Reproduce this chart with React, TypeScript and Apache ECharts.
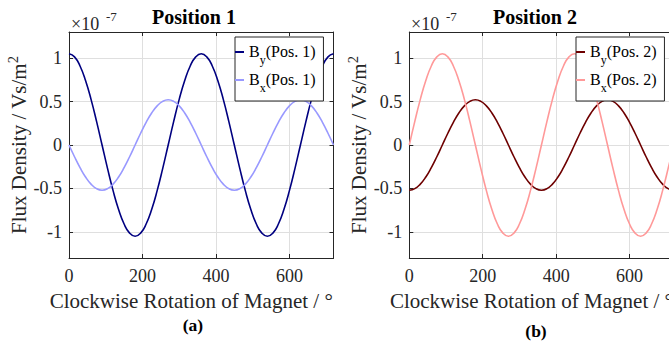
import React, { useEffect, useRef } from 'react';
import * as echarts from 'echarts';

// Rotation angle of the magnet in degrees
const angles = [
  0, 15, 30, 45, 60, 75, 90, 105, 120, 135, 150, 165,
  180, 195, 210, 225, 240, 255, 270, 285, 300, 315, 330, 345,
  360, 375, 390, 405, 420, 435, 450, 465, 480, 495, 510, 525,
  540, 555, 570, 585, 600, 615, 630, 645, 660, 675, 690, 705, 720,
];

// Flux density values (x 1e-7 Vs/m^2)
const byPos1 = [
  1.05, 1.014, 0.909, 0.742, 0.525, 0.272, 0, -0.272, -0.525, -0.742, -0.909, -1.014,
  -1.05, -1.014, -0.909, -0.742, -0.525, -0.272, 0, 0.272, 0.525, 0.742, 0.909, 1.014,
  1.05, 1.014, 0.909, 0.742, 0.525, 0.272, 0, -0.272, -0.525, -0.742, -0.909, -1.014,
  -1.05, -1.014, -0.909, -0.742, -0.525, -0.272, 0, 0.272, 0.525, 0.742, 0.909, 1.014,
  1.05,
];
const bxPos1 = [
  0, -0.135, -0.26, -0.368, -0.45, -0.502, -0.52, -0.502, -0.45, -0.368, -0.26, -0.135,
  0, 0.135, 0.26, 0.368, 0.45, 0.502, 0.52, 0.502, 0.45, 0.368, 0.26, 0.135,
  0, -0.135, -0.26, -0.368, -0.45, -0.502, -0.52, -0.502, -0.45, -0.368, -0.26, -0.135,
  0, 0.135, 0.26, 0.368, 0.45, 0.502, 0.52, 0.502, 0.45, 0.368, 0.26, 0.135,
  0,
];
const byPos2 = [
  -0.52, -0.502, -0.45, -0.368, -0.26, -0.135, 0, 0.135, 0.26, 0.368, 0.45, 0.502,
  0.52, 0.502, 0.45, 0.368, 0.26, 0.135, 0, -0.135, -0.26, -0.368, -0.45, -0.502,
  -0.52, -0.502, -0.45, -0.368, -0.26, -0.135, 0, 0.135, 0.26, 0.368, 0.45, 0.502,
  0.52, 0.502, 0.45, 0.368, 0.26, 0.135, 0, -0.135, -0.26, -0.368, -0.45, -0.502,
  -0.52,
];
const bxPos2 = [
  0, 0.272, 0.525, 0.742, 0.909, 1.014, 1.05, 1.014, 0.909, 0.742, 0.525, 0.272,
  0, -0.272, -0.525, -0.742, -0.909, -1.014, -1.05, -1.014, -0.909, -0.742, -0.525, -0.272,
  0, 0.272, 0.525, 0.742, 0.909, 1.014, 1.05, 1.014, 0.909, 0.742, 0.525, 0.272,
  0, -0.272, -0.525, -0.742, -0.909, -1.014, -1.05, -1.014, -0.909, -0.742, -0.525, -0.272,
  0,
];

const seriesNames = ['By (Pos. 1)', 'Bx (Pos. 1)', 'By (Pos. 2)', 'Bx (Pos. 2)'];
const panelTitles = ['Position 1', 'Position 2'];
const panelCaptions = ['(a)', '(b)'];
const xAxisName = 'Clockwise Rotation of Magnet / °';
const yAxisNameMain = 'Flux Density / Vs/m';
const yAxisNameSup = '2';
const exponentBase = '×10';
const exponentPower = '-7';

const FONT = "'Liberation Serif', 'Times New Roman', serif";
const AXIS_COLOR = '#262626';
const GRID_COLOR = '#dfdfdf';
const COLORS = ['#000080', '#9999ff', '#6e0000', '#ff9999'];

const pair = (ys: number[]) => angles.map((a, i) => [a, ys[i]]);

function xAxes(g: number) {
  const common = {
    type: 'value',
    gridIndex: g,
    min: 0,
    max: 720,
    interval: 200,
    axisLine: { show: true, onZero: false, lineStyle: { color: AXIS_COLOR, width: 1 } },
    axisTick: { show: true, inside: true, length: 4, lineStyle: { color: AXIS_COLOR } },
  };
  return [
    {
      ...common,
      position: 'bottom',
      axisLabel: { show: true, color: AXIS_COLOR, fontFamily: FONT, fontSize: 18, margin: 9, showMaxLabel: false },
      splitLine: { show: true, showMinLine: false, showMaxLine: false, lineStyle: { color: GRID_COLOR, width: 1 } },
      name: xAxisName,
      nameLocation: 'middle',
      nameGap: 32,
      nameTextStyle: { fontFamily: FONT, fontSize: 21, color: AXIS_COLOR, padding: [0, 20, 0, 0] },
    },
    {
      ...common,
      position: 'top',
      axisLabel: { show: false },
      splitLine: { show: false },
    },
  ];
}

function yAxes(g: number) {
  const common = {
    type: 'value',
    gridIndex: g,
    min: -1.3,
    max: 1.3,
    axisLine: { show: true, onZero: false, lineStyle: { color: AXIS_COLOR, width: 1 } },
    axisTick: { show: true, inside: true, length: 4, lineStyle: { color: AXIS_COLOR } },
  };
  return [
    {
      ...common,
      position: 'left',
      axisLabel: {
        show: true, color: AXIS_COLOR, fontFamily: FONT, fontSize: 18, margin: 7,
        showMinLabel: false, showMaxLabel: false,
      },
      splitLine: { show: true, showMinLine: false, showMaxLine: false, lineStyle: { color: GRID_COLOR, width: 1 } },
      name: `{a|${yAxisNameMain}}{s|${yAxisNameSup}}`,
      nameLocation: 'middle',
      nameRotate: 90,
      nameGap: 15,
      nameTextStyle: {
        fontFamily: FONT, fontSize: 21, color: AXIS_COLOR,
        rich: {
          a: { fontFamily: FONT, fontSize: 21, color: AXIS_COLOR },
          s: { fontFamily: FONT, fontSize: 14.5, color: AXIS_COLOR, padding: [0, 0, 12, 0] },
        },
      },
    },
    {
      ...common,
      position: 'right',
      axisLabel: { show: false },
      splitLine: { show: false },
    },
  ];
}

const legendRich = {
  b: { fontFamily: FONT, fontSize: 16, color: '#000', padding: [0, 0, 2, 0] },
  s: { fontFamily: FONT, fontSize: 12, color: '#000', padding: [16, 0, 0, 0] },
};

const legendFormatter = (name: string) => {
  const m = name.match(/^B(\w) (.*)$/);
  if (!m) return name;
  return `{b|B}{s|${m[1]}}{b|${m[2]}}`;
};

function legendFor(names: string[], left: number) {
  return {
    show: true,
    data: names.map((n) => ({ name: n, icon: 'rect' })),
    orient: 'vertical',
    left,
    top: 37,
    itemWidth: 9,
    itemHeight: 2,
    itemGap: 5,
    padding: [6, 8, 7, 0],
    backgroundColor: '#ffffff',
    borderColor: AXIS_COLOR,
    borderWidth: 1,
    borderRadius: 0,
    selectedMode: false,
    formatter: legendFormatter,
    textStyle: { fontFamily: FONT, fontSize: 16, color: '#000', rich: legendRich },
  };
}

function lineSeries(name: string, ys: number[], color: string, axis: number) {
  return {
    type: 'line',
    name,
    xAxisIndex: axis,
    yAxisIndex: axis,
    data: pair(ys),
    smooth: true,
    symbol: 'none',
    showSymbol: false,
    lineStyle: { color, width: 1.6 },
    itemStyle: { color },
  };
}

export default function App() {
  const ref = useRef<HTMLDivElement>(null);
  useEffect(() => {
    if (!ref.current) return;
    const chart = echarts.init(ref.current, undefined, { renderer: 'svg' });
    chart.setOption({
      animation: false,
      backgroundColor: '#ffffff',
      textStyle: { fontFamily: FONT },
      grid: [
        { left: 69, top: 32, width: 264.5, height: 226, containLabel: false, outerBoundsMode: 'none' },
        { left: 409.3, top: 32, width: 264.3, height: 226, containLabel: false, outerBoundsMode: 'none' },
      ],
      xAxis: [...xAxes(0), ...xAxes(1)],
      yAxis: [...yAxes(0), ...yAxes(1)],
      legend: [
        legendFor([seriesNames[0], seriesNames[1]], 235),
        legendFor([seriesNames[2], seriesNames[3]], 576),
      ],
      series: [
        lineSeries(seriesNames[0], byPos1, COLORS[0], 0),
        lineSeries(seriesNames[1], bxPos1, COLORS[1], 0),
        lineSeries(seriesNames[2], byPos2, COLORS[2], 2),
        lineSeries(seriesNames[3], bxPos2, COLORS[3], 2),
      ],
      graphic: [
        ...[0, 1].map((i) => ({
          type: 'text',
          x: [194, 535][i],
          y: 17,
          style: {
            text: panelTitles[i], fontFamily: FONT, fontSize: 20, fontWeight: 'bold', fill: '#000',
            align: 'center', verticalAlign: 'middle', textAlign: 'center', textVerticalAlign: 'middle',
          },
        })),
        ...[0, 1].map((i) => ({
          type: 'text',
          x: [193, 536][i],
          y: [325, 330.5][i],
          style: {
            text: panelCaptions[i], fontFamily: FONT, fontSize: 17.5, fontWeight: 'bold', fill: '#000',
            align: 'center', verticalAlign: 'middle', textAlign: 'center', textVerticalAlign: 'middle',
          },
        })),
        ...[0, 1].map((i) => ({
          type: 'text',
          x: [71, 411][i],
          y: 24,
          style: {
            text: exponentBase, fontFamily: FONT, fontSize: 18, fill: AXIS_COLOR,
            align: 'left', verticalAlign: 'middle', textAlign: 'left', textVerticalAlign: 'middle',
          },
        })),
        ...[0, 1].map((i) => ({
          type: 'text',
          x: [106, 446][i],
          y: 16,
          style: {
            text: exponentPower, fontFamily: FONT, fontSize: 13, fill: AXIS_COLOR,
            align: 'left', verticalAlign: 'middle', textAlign: 'left', textVerticalAlign: 'middle',
          },
        })),
      ],
    });
    return () => chart.dispose();
  }, []);
  return (
    <div
      ref={ref}
      style={{ position: 'absolute', left: 0, top: 0, width: 669, height: 341 }}
    />
  );
}
